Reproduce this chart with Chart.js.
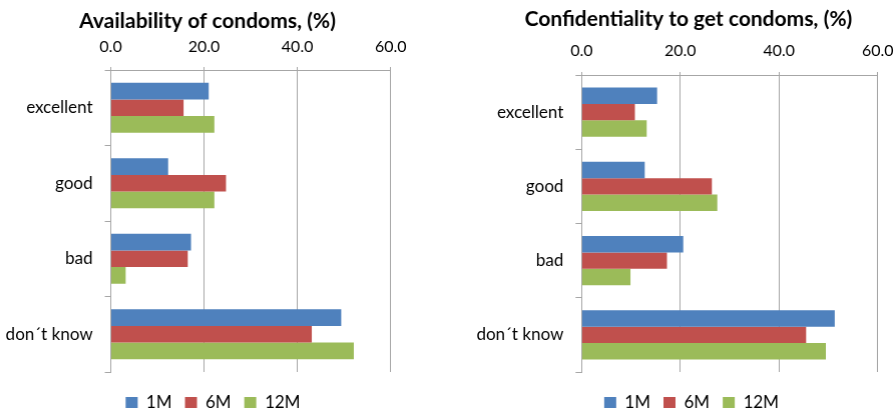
<!DOCTYPE html>
<html>
<head>
<meta charset="utf-8">
<script src="https://cdn.jsdelivr.net/npm/chart.js@4"></script>
<style>
html, body { margin: 0; padding: 0; background: #fff; overflow: hidden; width: 896px; height: 412px; }
.box { position: absolute; top: 0; }
#leftBox { left: 0; width: 416.5px; height: 421px; }
#rightBox { left: 460px; width: 444.5px; height: 421px; }
</style>
</head>
<body>
<div class="box" id="leftBox"><canvas id="availChart"></canvas></div>
<div class="box" id="rightBox"><canvas id="confChart"></canvas></div>
<script>
// ---- data ----
const categories = ['excellent', 'good', 'bad', 'don´t know'];
const seriesNames = ['1M', '6M', '12M'];
const seriesColors = ['#4F81BD', '#C0504D', '#9BBB59'];
const xTicks = [0, 20, 40, 60];

const avail1M = [21.0, 12.3, 17.2, 49.4];
const avail6M = [15.6, 24.7, 16.5, 43.1];
const avail12M = [22.2, 22.2, 3.2, 52.1];

const conf1M = [15.3, 12.8, 20.6, 51.3];
const conf6M = [10.8, 26.4, 17.3, 45.5];
const conf12M = [13.2, 27.5, 9.9, 49.5];

const FONT = 'Lato';
const GRID = '#a6a6a6';

// move title / legend sideways after layout (the right padding shrinks their box)
const shiftBoxes = {
    id: 'shiftBoxes',
    afterLayout(chart, args, opts) {
        const t = chart.titleBlock, l = chart.legend;
        if (t) { t.left += opts.title; t.right += opts.title; }
        if (l) { l.left += opts.legend; l.right += opts.legend; }
    }
};

function makeChart(id, title, values, cfg) {
    const ctx = document.getElementById(id).getContext('2d');
    return new Chart(ctx, {
        type: 'bar',
        plugins: [shiftBoxes],
        data: {
            labels: categories,
            datasets: values.map((v, i) => ({
                label: seriesNames[i],
                data: v,
                backgroundColor: seriesColors[i],
                borderWidth: 0,
                categoryPercentage: 0.66,
                barPercentage: 1.0
            }))
        },
        options: {
            indexAxis: 'y',
            responsive: true,
            maintainAspectRatio: false,
            animation: false,
            layout: { padding: { left: 0, right: cfg.padRight, top: 0, bottom: 0 } },
            plugins: {
                shiftBoxes: { title: cfg.titleShift, legend: cfg.legendShift },
                title: {
                    display: true,
                    text: title,
                    color: '#000',
                    font: { family: FONT, size: 21, weight: 'bold', lineHeight: 1.2 },
                    padding: { top: cfg.titleTop, bottom: 0 }
                },
                legend: {
                    position: 'bottom',
                    title: { display: true, text: ' ', padding: 0, font: { size: 9, lineHeight: 1 } },
                    labels: {
                        boxWidth: 12,
                        boxHeight: 11,
                        padding: 13,
                        color: '#000',
                        font: { family: FONT, size: 17 }
                    }
                },
                tooltip: { enabled: false }
            },
            scales: {
                x: {
                    position: 'top',
                    min: 0,
                    max: 60,
                    afterBuildTicks: s => { s.ticks = xTicks.map(v => ({ value: v })); },
                    afterFit: s => { s.height = cfg.xHeight; },
                    ticks: {
                        color: '#000',
                        padding: cfg.xPad,
                        font: { family: FONT, size: 16, lineHeight: 1.2 },
                        callback: v => Number(v).toFixed(1)
                    },
                    grid: { color: GRID, tickLength: 3 },
                    border: { color: GRID }
                },
                y: {
                    afterFit: s => { s.width = cfg.yWidth; },
                    ticks: {
                        color: '#000',
                        padding: 12,
                        font: { family: FONT, size: 17 }
                    },
                    grid: { offset: true, drawOnChartArea: false, tickLength: 6, color: GRID },
                    border: { color: GRID }
                }
            }
        }
    });
}

makeChart('availChart', 'Availability of condoms, (%)', [avail1M, avail6M, avail12M],
    { padRight: 26.5, titleTop: 9, xHeight: 35.8, xPad: 11, yWidth: 110.5, titleShift: 12, legendShift: 17.5 });
makeChart('confChart', 'Confidentiality to get condoms, (%)', [conf1M, conf6M, conf12M],
    { padRight: 27.5, titleTop: 7, xHeight: 42.8, xPad: 12, yWidth: 121.3, titleShift: 19.5, legendShift: 22.5 });
</script>
</body>
</html>
